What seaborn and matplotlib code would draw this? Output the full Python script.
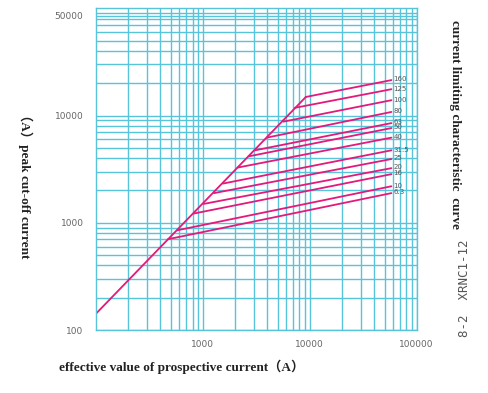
import matplotlib
matplotlib.use("Agg")
import matplotlib.pyplot as plt
import matplotlib.ticker as mticker
import seaborn as sns
import pandas as pd

# fuse ratings (A) and the read-off points of each limiting branch
ratings = ['160', '125', '100', '80', '63', '50', '40', '31.5', '25', '20', '16', '10', '6.3']
start_current = [9180, 7260, 5670, 3960, 3080, 2670, 2110, 1540, 1270, 1020, 826, 573, 470]
start_peak = [14900, 11800, 8770, 6220, 4740, 4160, 3270, 2320, 1890, 1500, 1220, 850, 702]
end_current = [58000, 58000, 58000, 58000, 58000, 58000, 58000, 58000, 58000, 58000, 58000, 58000, 58000]
end_peak = [21400, 17600, 13900, 10800, 8500, 7640, 6220, 4740, 3930, 3230, 2840, 2190, 1890]

# unlimited peak current line
main_current = [100, 9180]
main_peak = [142, 14900]

x_ticks = [1000, 10000, 100000]
x_tick_labels = ['1000', '10000', '100000']
y_ticks = [100, 1000, 10000, 85000]
y_tick_labels = ['100', '1000', '10000', '50000']

MAGENTA = '#E3197B'
CYAN = '#58C4DA'

rows = []
for r, x0, y0, x1, y1 in zip(ratings, start_current, start_peak, end_current, end_peak):
    rows.append({'rating': r, 'current': x0, 'peak': y0})
    rows.append({'rating': r, 'current': x1, 'peak': y1})
branches = pd.DataFrame(rows)
main_df = pd.DataFrame({'current': main_current, 'peak': main_peak})

sns.set_style('white')

fig = plt.figure(figsize=(4.89, 3.93), dpi=100)
ax = fig.add_axes([96 / 489, 1 - 330 / 393, 320.7 / 489, 321.7 / 393])

sns.lineplot(data=main_df, x='current', y='peak', color=MAGENTA,
             linewidth=1.3, ax=ax, sort=False)
sns.lineplot(data=branches, x='current', y='peak', units='rating',
             estimator=None, color=MAGENTA, linewidth=1.3, ax=ax, sort=False)

ax.set_xscale('log')
ax.set_yscale('log')
ax.set_xlim(100, 100000)
ax.set_ylim(100, 100000)

for r, x1, y1 in zip(ratings, end_current, end_peak):
    ax.annotate(r, (x1, y1), xytext=(1.5, 0.5), textcoords='offset points',
                fontsize=5, color='#555555', va='center', ha='left')

ax.xaxis.set_major_locator(mticker.FixedLocator(x_ticks))
ax.yaxis.set_major_locator(mticker.FixedLocator(y_ticks))
ax.xaxis.set_minor_locator(mticker.LogLocator(base=10, subs=range(2, 10), numticks=20))
ax.yaxis.set_minor_locator(mticker.LogLocator(base=10, subs=range(2, 10), numticks=20))
ax.set_xticklabels(x_tick_labels)
ax.set_yticklabels(y_tick_labels)
ax.xaxis.set_minor_formatter(mticker.NullFormatter())
ax.yaxis.set_minor_formatter(mticker.NullFormatter())
ax.tick_params(which='both', length=0, labelsize=6.5, labelcolor='#666666')
ax.tick_params(axis='x', pad=7)
ax.tick_params(axis='y', pad=9)
ax.set_xlabel('')
ax.set_ylabel('')

ax.grid(True, which='both', color=CYAN, linewidth=1.0)
ax.set_axisbelow(True)
# make sure every minor gridline really takes the cyan colour
fig.canvas.draw()
for axis in (ax.xaxis, ax.yaxis):
    for t in axis.get_major_ticks() + axis.get_minor_ticks():
        t.gridline.set_color(CYAN)
        t.gridline.set_linewidth(1.0)
        t.gridline.set_alpha(1.0)

for s in ax.spines.values():
    s.set_color(CYAN)
    s.set_linewidth(1.0)

serif = ['Liberation Serif', 'Noto Sans CJK SC', 'DejaVu Sans']
fig.text(59 / 489, 1 - 367 / 393, 'effective value of prospective current（A）',
         family=serif, fontweight='bold', fontsize=9.5, color='#222222',
         ha='left', va='center')
fig.text(25 / 489, 1 - 183 / 393, '（A）peak cut-off current', rotation=270,
         family=serif, fontweight='bold', fontsize=9.5, color='#222222',
         ha='center', va='center')
fig.text(455 / 489, 1 - 125 / 393, 'current limiting characteristic  curve',
         rotation=270, family=serif, fontweight='bold', fontsize=9.5,
         color='#222222', ha='center', va='center')
fig.text(465 / 489, 1 - 288 / 393, '8-2  XRNC1-12', rotation=90,
         family='DejaVu Sans Mono', fontsize=9, color='#555555',
         ha='center', va='center')

fig.savefig('out.png', dpi=100)
